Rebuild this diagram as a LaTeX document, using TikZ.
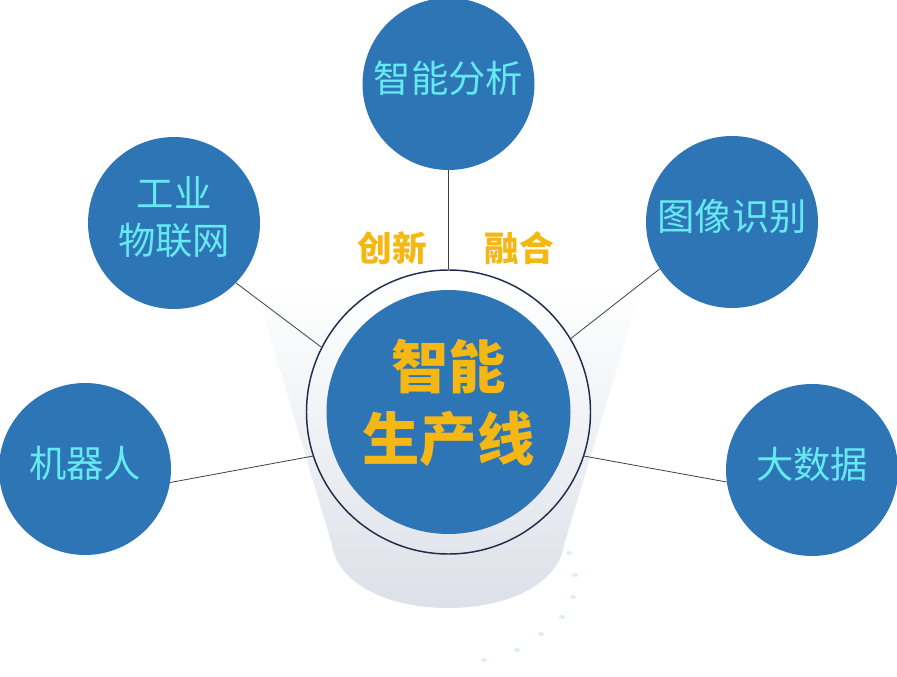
\documentclass[tikz,border=0pt]{standalone}
\usepackage{fontspec}
\usetikzlibrary{fadings}
\newfontfamily\cjk{Noto Sans CJK SC}
\definecolor{ballblue}{RGB}{46,117,182}
\definecolor{labelcyan}{RGB}{100,234,242}
\definecolor{gold}{RGB}{245,183,20}
\definecolor{ringnavy}{RGB}{30,45,75}
\definecolor{cupgray}{RGB}{220,224,232}
\definecolor{dotcyan}{RGB}{220,237,242}

\begin{document}
\begin{tikzpicture}[x=0.75pt,y=-0.75pt,
  ball/.style={circle,fill=ballblue,inner sep=0pt,minimum size=129pt,text=labelcyan,align=center,text depth=11pt,font=\cjk\fontsize{28}{35}\selectfont},
  link/.style={draw=black!75,line width=0.6pt},
  tag/.style={text=gold,font=\cjk\bfseries\fontsize{26}{30}\selectfont}]
\useasboundingbox (0,0) rectangle (897,677);

% cup behind the core
\fill[cupgray,path fading=north] (255,285) -- (332,545) .. controls (338,585) and (390,608) .. (448,608) .. controls (506,608) and (558,585) .. (564,545) -- (642,285) -- cycle;
\foreach \x/\y in {555/535,569/553,575/575,573/597,562/617,541/634,517/650,484/660}
  \fill[dotcyan] (\x,\y) ellipse (2.2pt and 1.5pt);

\node[circle,draw=ringnavy,line width=1.1pt,minimum size=213pt,inner sep=0pt] (p0) at (448.5,412) {};
\node[circle,fill=ballblue,minimum size=183pt,inner sep=0pt] (core) at (448.5,412) {};
\node[text=gold,align=center,font=\cjk\bfseries\fontsize{43}{54}\selectfont] (t0) at (448.5,403) {智能\\生产线};

\node[tag] (c1) at (392,248) {创新};
\node[tag] (c2) at (519,248) {融合};

\node[ball] (p1) at (448.5,84) {智能分析};
\node[ball] (p2) at (174,223) {工业\\物联网};
\node[ball] (p3) at (732,222) {图像识别};
\node[ball] (p4) at (85,469) {机器人};
\node[ball] (p5) at (812,470) {大数据};

\draw[link] (p1) -- (p0);
\draw[link] (p2.-44) -- (p0.153);
\draw[link] (p3.213) -- (p0.31);
\draw[link] (p4.-9) -- (p0.198);
\draw[link] (p5.188) -- (p0.-18);
\end{tikzpicture}
\end{document}
